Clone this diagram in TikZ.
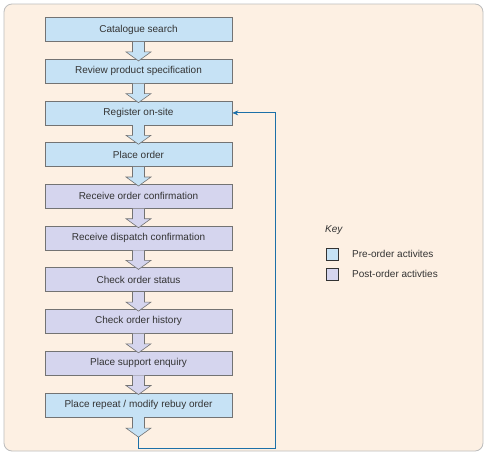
\documentclass[tikz,border=0pt]{standalone}
\usepackage{fontspec}
\setmainfont{Liberation Sans}
\usetikzlibrary{calc,arrows.meta}
\definecolor{panelbg}{HTML}{FDF0E3}
\definecolor{panelline}{HTML}{BDBDBD}
\definecolor{preblue}{HTML}{C6E2F5}
\definecolor{postlav}{HTML}{D5D5EE}
\definecolor{linkblue}{HTML}{1C70A8}
\definecolor{txt}{HTML}{333333}
\begin{document}
\begin{tikzpicture}[x=1pt,y=-1pt,
  stepbox/.style={draw=black!55, line width=0.6pt, minimum width=187pt, minimum height=24pt,
    inner sep=0pt, font=\fontsize{10}{12}\selectfont, text=txt},
  pre/.style={stepbox, fill=preblue},
  post/.style={stepbox, fill=postlav},
  blockarr/.style={draw=black!55, line width=0.6pt},
  keybox/.style={draw=black!80, line width=0.6pt, minimum width=12pt, minimum height=12pt, inner sep=0pt},
  keytext/.style={anchor=west, font=\fontsize{10}{12}\selectfont, text=txt, inner sep=0pt}]
\useasboundingbox (0,0) rectangle (487,461);
\fill[white] (0,0) rectangle (487,461);
\draw[panelline, fill=panelbg, line width=0.8pt, rounded corners=8pt] (4,4) rectangle (483,451);

\node[pre]  (b1)  at (138.5,29.5)  {Catalogue search};
\node[pre]  (b2)  at (138.5,71.2)  {Review product specification};
\node[pre]  (b3)  at (138.5,112.9) {Register on-site};
\node[pre]  (b4)  at (138.5,154.6) {Place order};
\node[post] (b5)  at (138.5,196.3) {Receive order confirmation};
\node[post] (b6)  at (138.5,238.0) {Receive dispatch confirmation};
\node[post] (b7)  at (138.5,279.7) {Check order status};
\node[post] (b8)  at (138.5,321.4) {Check order history};
\node[post] (b9)  at (138.5,363.1) {Place support enquiry};
\node[pre]  (b10) at (138.5,404.8) {Place repeat / modify rebuy order};
\coordinate (tipend) at ($(b10.south)+(0,20)$);

\foreach \a/\b/\c in {b1/b2/preblue,b2/b3/preblue,b3/b4/preblue,b4/b5/preblue,
  b5/b6/postlav,b6/b7/postlav,b7/b8/postlav,b8/b9/postlav,b9/b10/postlav}{
  \draw[blockarr, fill=\c]
    ($(\a.south)+(-6,0)$) -- ($(\b.north)+(-6,-7)$) -- ($(\b.north)+(-12.5,-7)$)
    -- ($(\b.north)+(0,2)$) -- ($(\b.north)+(12.5,-7)$) -- ($(\b.north)+(6,-7)$)
    -- ($(\a.south)+(6,0)$);
}
\draw[blockarr, fill=preblue]
  ($(b10.south)+(-6,0)$) -- ($(tipend)+(-6,-9)$) -- ($(tipend)+(-12.5,-9)$)
  -- (tipend) -- ($(tipend)+(12.5,-9)$) -- ($(tipend)+(6,-9)$) -- ($(b10.south)+(6,0)$);

\draw[linkblue, line width=0.9pt, -{Stealth[length=6pt,width=5pt]}]
  (tipend) -- ++(0,11) -| ($(b3.east)+(43,0)$) -- (b3.east);

\node[anchor=west, font=\itshape\fontsize{10}{12}\selectfont, text=txt, inner sep=0pt] (key) at (325,230) {Key};
\node[keybox, fill=preblue]  (k1) at (332,254) {};
\node[keybox, fill=postlav]  (k2) at (332,274) {};
\node[keytext] (t1) at (352,254) {Pre-order activites};
\node[keytext] (t2) at (352,274) {Post-order activties};
\end{tikzpicture}
\end{document}
